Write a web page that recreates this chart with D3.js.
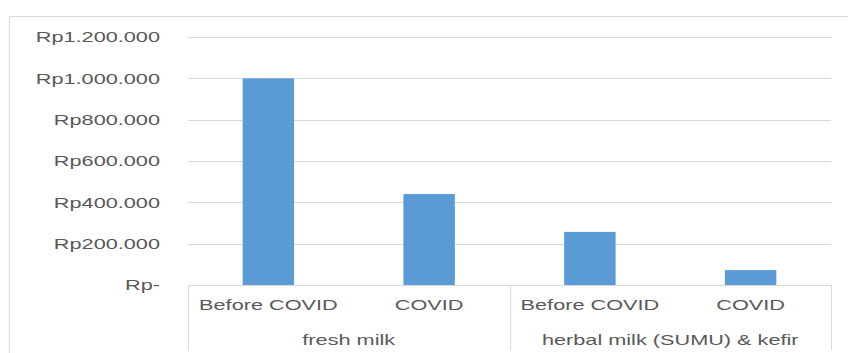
<!DOCTYPE html>
<html>
<head>
<meta charset="utf-8">
<script src="https://cdn.jsdelivr.net/npm/d3@7"></script>
<style>
  html, body { margin: 0; padding: 0; background: #fff; }
  svg { display: block; }
  text { font-family: "Liberation Sans", Arial, sans-serif; fill: #595959; }
</style>
</head>
<body>
<svg id="chart" width="848" height="353"></svg>
<script>
// Average sales (Rupiah) per product group, before and during COVID
const groups = ["fresh milk", "herbal milk (SUMU) & kefir"];
const periods = ["Before COVID", "COVID"];
const freshMilk = [1000000, 440000];
const herbalKefir = [257000, 72000];
const yTicks = [0, 200000, 400000, 600000, 800000, 1000000, 1200000];
const yTickLabels = ["Rp-", "Rp200.000", "Rp400.000", "Rp600.000", "Rp800.000", "Rp1.000.000", "Rp1.200.000"];

const seriesByGroup = [freshMilk, herbalKefir];
const rows = [];
groups.forEach((g, gi) => periods.forEach((p, pi) => rows.push({ group: g, period: p, key: g + "|" + p, value: seriesByGroup[gi][pi] })));

const svg = d3.select("#chart");
const W = 848, H = 353;
const plot = { left: 188, right: 831, top: 37, bottom: 285 };
const stretch = 1.55;   // wide glyph rendering of the labels
const gridColor = "#d9d9d9";

// outer chart frame (open at right and bottom edges)
svg.append("path")
  .attr("d", `M9.5,${H} V16.5 H${W}`)
  .attr("fill", "none").attr("stroke", gridColor).attr("stroke-width", 1);

const y = d3.scaleLinear().domain([0, 1200000]).range([plot.bottom, plot.top]);
const xGroup = d3.scaleBand().domain(groups).range([plot.left, plot.right]);
const xBar = d3.scaleBand().domain(rows.map(d => d.key)).range([plot.left, plot.right]).paddingInner(0.68).paddingOuter(0.34);

// horizontal gridlines
svg.append("g").selectAll("line").data(yTicks.filter(t => t > 0)).join("line")
  .attr("x1", plot.left).attr("x2", plot.right)
  .attr("y1", d => Math.round(y(d)) + 0.5).attr("y2", d => Math.round(y(d)) + 0.5)
  .attr("stroke", gridColor).attr("stroke-width", 1);

// y-axis labels via d3 axis
const yAxis = d3.axisLeft(y).tickValues(yTicks).tickFormat((d, i) => yTickLabels[i]).tickSize(0).tickPadding(0);
const yg = svg.append("g").attr("transform", "translate(160,0)").call(yAxis);
yg.select(".domain").remove();
yg.selectAll("text")
  .attr("x", null).attr("dy", "0.35em")
  .style("font-size", "14px").style("fill", "#595959")
  .attr("font-family", null)
  .attr("transform", `scale(${stretch},1)`)
  .each(function () {
    // keep text right edge at x=0 of the group after horizontal stretch
    const t = d3.select(this);
    t.attr("text-anchor", "end");
  });

// bars
svg.append("g").selectAll("rect").data(rows).join("rect")
  .attr("x", d => xBar(d.key))
  .attr("width", xBar.bandwidth())
  .attr("y", d => y(d.value))
  .attr("height", d => plot.bottom - y(d.value))
  .attr("fill", "#5b9bd5");

// category axis: baseline and group separators
const axisG = svg.append("g");
axisG.append("line")
  .attr("x1", plot.left).attr("x2", plot.right)
  .attr("y1", plot.bottom + 0.5).attr("y2", plot.bottom + 0.5)
  .attr("stroke", gridColor);
const seps = [plot.left, ...groups.map(g => xGroup(g) + xGroup.bandwidth())];
axisG.selectAll("line.sep").data(seps).join("line").attr("class", "sep")
  .attr("x1", d => Math.round(d) + 0.5).attr("x2", d => Math.round(d) + 0.5)
  .attr("y1", plot.bottom).attr("y2", H - 3)
  .attr("stroke", gridColor);

// period labels
axisG.selectAll("text.period").data(rows).join("text").attr("class", "period")
  .attr("text-anchor", "middle")
  .attr("transform", d => `translate(${xBar(d.key) + xBar.bandwidth() / 2},${plot.bottom + 25}) scale(${stretch},1)`)
  .style("font-size", "14px")
  .text(d => d.period);

// group labels
axisG.selectAll("text.group").data(groups).join("text").attr("class", "group")
  .attr("text-anchor", "middle")
  .attr("transform", d => `translate(${xGroup(d) + xGroup.bandwidth() / 2},${plot.bottom + 60}) scale(${stretch},1)`)
  .style("font-size", "14px")
  .text(d => d);
</script>
</body>
</html>
